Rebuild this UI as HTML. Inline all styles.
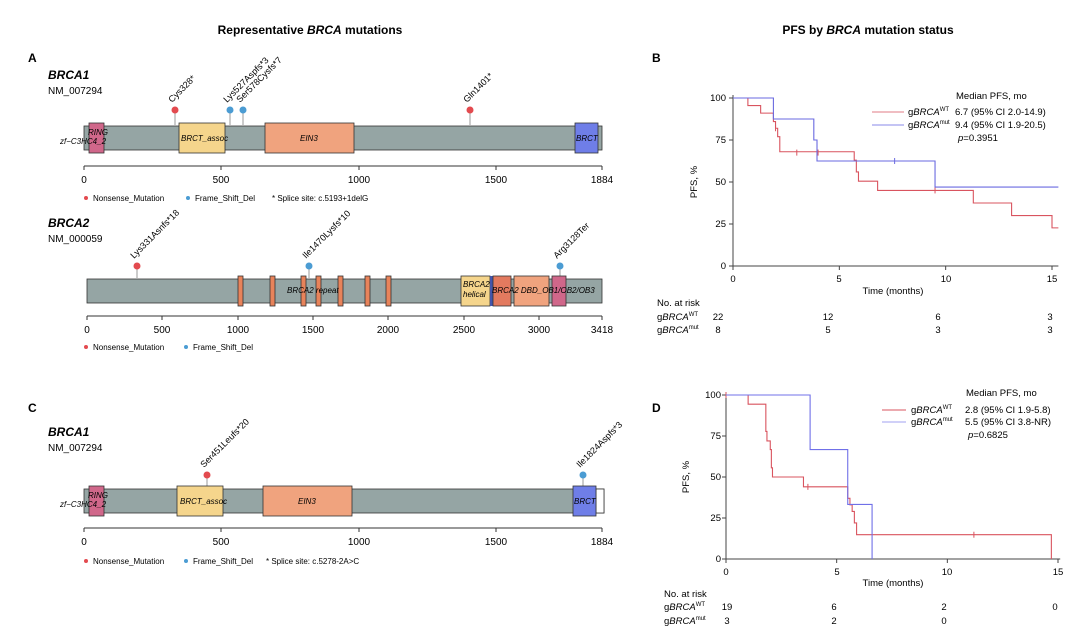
<!DOCTYPE html>
<html><head><meta charset="utf-8"><style>
body{margin:0;background:#fff}
svg{display:block;font-family:"Liberation Sans",sans-serif}
</style></head><body>
<svg id="s" width="1090" height="642" viewBox="0 0 1090 642" xmlns="http://www.w3.org/2000/svg">
<rect width="1090" height="642" fill="#fff"/>
<text x="310" y="34" font-size="12" font-weight="bold" text-anchor="middle">Representative <tspan font-style="italic">BRCA</tspan> mutations</text>
<text x="868" y="34" font-size="12" font-weight="bold" text-anchor="middle">PFS by <tspan font-style="italic">BRCA</tspan> mutation status</text>
<g font-size="12" font-weight="bold"><text x="28" y="62">A</text><text x="652" y="62">B</text><text x="28" y="412">C</text><text x="652" y="412">D</text></g>

<!-- Panel A BRCA1 -->
<g font-size="9">
<text x="48" y="79" font-size="12" font-weight="bold" font-style="italic">BRCA1</text>
<text x="48" y="94" font-size="10">NM_007294</text>
<g stroke="#999"><line x1="175" y1="110" x2="175" y2="125"/><line x1="230" y1="110" x2="230" y2="125"/><line x1="243" y1="110" x2="243" y2="125"/><line x1="470" y1="110" x2="470" y2="125"/></g>
<circle cx="175" cy="110" r="3.5" fill="#e34a4f"/><circle cx="230" cy="110" r="3.5" fill="#4b9cd3"/><circle cx="243" cy="110" r="3.5" fill="#4b9cd3"/><circle cx="470" cy="110" r="3.5" fill="#e34a4f"/>
<text transform="translate(172,103) rotate(-45)">Cys328*</text>
<text transform="translate(227,103) rotate(-45)">Lys527Aspfs*3</text>
<text transform="translate(240,103) rotate(-45)">Ser578Cysfs*7</text>
<text transform="translate(467,103) rotate(-45)">Gln1401*</text>
<rect x="84" y="126" width="518" height="24" fill="#95a5a4" stroke="#333" stroke-width=".8"/>
<rect x="89" y="123" width="15" height="30" fill="#d0678a" stroke="#333" stroke-width=".8"/>
<rect x="179" y="123" width="46" height="30" fill="#f5d58c" stroke="#333" stroke-width=".8"/>
<rect x="265" y="123" width="89" height="30" fill="#f0a37e" stroke="#333" stroke-width=".8"/>
<rect x="575" y="123" width="23" height="30" fill="#6f7ee8" stroke="#333" stroke-width=".8"/>
<g font-style="italic" font-size="8"><text x="88" y="135">RING</text><text x="60" y="144">zf−C3HC4_2</text><text x="181" y="141">BRCT_assoc</text><text x="300" y="141">EIN3</text><text x="576" y="141">BRCT</text></g>
<line x1="84" y1="166" x2="602" y2="166" stroke="#333"/>
<g stroke="#333"><line x1="84" y1="166" x2="84" y2="170"/><line x1="221" y1="166" x2="221" y2="170"/><line x1="359" y1="166" x2="359" y2="170"/><line x1="496" y1="166" x2="496" y2="170"/><line x1="602" y1="166" x2="602" y2="170"/></g>
<g text-anchor="middle" font-size="10"><text x="84" y="183">0</text><text x="221" y="183">500</text><text x="359" y="183">1000</text><text x="496" y="183">1500</text><text x="602" y="183">1884</text></g>
<circle cx="86" cy="198" r="2" fill="#e34a4f"/><text x="93" y="201" font-size="8">Nonsense_Mutation</text>
<circle cx="188" cy="198" r="2" fill="#4b9cd3"/><text x="195" y="201" font-size="8">Frame_Shift_Del</text>
<text x="272" y="201" font-size="8">* Splice site: c.5193+1delG</text>
</g>

<!-- BRCA2 -->
<g font-size="9">
<text x="48" y="227" font-size="12" font-weight="bold" font-style="italic">BRCA2</text>
<text x="48" y="242" font-size="10">NM_000059</text>
<g stroke="#999"><line x1="137" y1="266" x2="137" y2="278"/><line x1="309" y1="266" x2="309" y2="278"/><line x1="560" y1="266" x2="560" y2="278"/></g>
<circle cx="137" cy="266" r="3.5" fill="#e34a4f"/><circle cx="309" cy="266" r="3.5" fill="#4b9cd3"/><circle cx="560" cy="266" r="3.5" fill="#4b9cd3"/>
<text transform="translate(134,259) rotate(-45)">Lys331Asnfs*18</text>
<text transform="translate(306,259) rotate(-45)">Ile1470Lysfs*10</text>
<text transform="translate(557,259) rotate(-45)">Arg3128Ter</text>
<rect x="87" y="279" width="515" height="24" fill="#95a5a4" stroke="#333" stroke-width=".8"/>
<g fill="#e8835a" stroke="#333" stroke-width=".8">
<rect x="238" y="276" width="5" height="30"/><rect x="270" y="276" width="5" height="30"/><rect x="301" y="276" width="5" height="30"/><rect x="316" y="276" width="5" height="30"/><rect x="338" y="276" width="5" height="30"/><rect x="365" y="276" width="5" height="30"/><rect x="386" y="276" width="5" height="30"/></g>
<rect x="461" y="276" width="29" height="30" fill="#f5d58c" stroke="#333" stroke-width=".8"/>
<rect x="490" y="276" width="3" height="30" fill="#4455aa"/>
<rect x="493" y="276" width="18" height="30" fill="#e37a5f" stroke="#333" stroke-width=".8"/>
<rect x="514" y="276" width="35" height="30" fill="#f0a37e" stroke="#333" stroke-width=".8"/>
<rect x="552" y="276" width="14" height="30" fill="#d0678a" stroke="#333" stroke-width=".8"/>
<g font-style="italic" font-size="8"><text x="287" y="293">BRCA2 repeat</text><text x="463" y="287">BRCA2</text><text x="463" y="297">helical</text><text x="492" y="293">BRCA2 DBD_OB1/OB2/OB3</text></g>
<line x1="87" y1="316" x2="602" y2="316" stroke="#333"/>
<g stroke="#333"><line x1="87" y1="316" x2="87" y2="320"/><line x1="162" y1="316" x2="162" y2="320"/><line x1="238" y1="316" x2="238" y2="320"/><line x1="313" y1="316" x2="313" y2="320"/><line x1="388" y1="316" x2="388" y2="320"/><line x1="464" y1="316" x2="464" y2="320"/><line x1="539" y1="316" x2="539" y2="320"/><line x1="602" y1="316" x2="602" y2="320"/></g>
<g text-anchor="middle" font-size="10"><text x="87" y="333">0</text><text x="162" y="333">500</text><text x="238" y="333">1000</text><text x="313" y="333">1500</text><text x="388" y="333">2000</text><text x="464" y="333">2500</text><text x="539" y="333">3000</text><text x="602" y="333">3418</text></g>
<circle cx="86" cy="347" r="2" fill="#e34a4f"/><text x="93" y="350" font-size="8">Nonsense_Mutation</text>
<circle cx="186" cy="347" r="2" fill="#4b9cd3"/><text x="193" y="350" font-size="8">Frame_Shift_Del</text>
</g>

<!-- Panel C -->
<g font-size="9">
<text x="48" y="436" font-size="12" font-weight="bold" font-style="italic">BRCA1</text>
<text x="48" y="451" font-size="10">NM_007294</text>
<g stroke="#999"><line x1="207" y1="475" x2="207" y2="488"/><line x1="583" y1="475" x2="583" y2="488"/></g>
<circle cx="207" cy="475" r="3.5" fill="#e34a4f"/><circle cx="583" cy="475" r="3.5" fill="#4b9cd3"/>
<text transform="translate(204,468) rotate(-45)">Ser451Leufs*20</text>
<text transform="translate(580,468) rotate(-45)">Ile1824Aspfs*3</text>
<rect x="84" y="489" width="520" height="24" fill="#95a5a4" stroke="#333" stroke-width=".8"/>
<rect x="596" y="489" width="8" height="24" fill="#fff" stroke="#333" stroke-width=".8"/>
<rect x="89" y="486" width="15" height="30" fill="#d0678a" stroke="#333" stroke-width=".8"/>
<rect x="177" y="486" width="46" height="30" fill="#f5d58c" stroke="#333" stroke-width=".8"/>
<rect x="263" y="486" width="89" height="30" fill="#f0a37e" stroke="#333" stroke-width=".8"/>
<rect x="573" y="486" width="23" height="30" fill="#6f7ee8" stroke="#333" stroke-width=".8"/>
<g font-style="italic" font-size="8"><text x="88" y="498">RING</text><text x="60" y="507">zf−C3HC4_2</text><text x="180" y="504">BRCT_assoc</text><text x="298" y="504">EIN3</text><text x="574" y="504">BRCT</text></g>
<line x1="84" y1="528" x2="602" y2="528" stroke="#333"/>
<g stroke="#333"><line x1="84" y1="528" x2="84" y2="532"/><line x1="221" y1="528" x2="221" y2="532"/><line x1="359" y1="528" x2="359" y2="532"/><line x1="496" y1="528" x2="496" y2="532"/><line x1="602" y1="528" x2="602" y2="532"/></g>
<g text-anchor="middle" font-size="10"><text x="84" y="545">0</text><text x="221" y="545">500</text><text x="359" y="545">1000</text><text x="496" y="545">1500</text><text x="602" y="545">1884</text></g>
<circle cx="86" cy="561" r="2" fill="#e34a4f"/><text x="93" y="564" font-size="8">Nonsense_Mutation</text>
<circle cx="186" cy="561" r="2" fill="#4b9cd3"/><text x="193" y="564" font-size="8">Frame_Shift_Del</text>
<text x="266" y="564" font-size="8">* Splice site: c.5278-2A&gt;C</text>
</g>

<!-- Panel B -->
<g font-size="9.5">
<text transform="translate(697,182) rotate(-90)" text-anchor="middle">PFS, %</text>
<g text-anchor="end"><text x="726" y="101">100</text><text x="726" y="143">75</text><text x="726" y="185">50</text><text x="726" y="227">25</text><text x="726" y="269">0</text></g>
<g text-anchor="middle"><text x="733" y="282">0</text><text x="839" y="282">5</text><text x="946" y="282">10</text><text x="1052" y="282">15</text><text x="893" y="294">Time (months)</text></g>
<text x="657" y="306">No. at risk</text>
<text x="657" y="320">g<tspan font-style="italic">BRCA</tspan><tspan font-size="6" dy="-4">WT</tspan></text>
<text x="657" y="333">g<tspan font-style="italic">BRCA</tspan><tspan font-size="6" dy="-4">mut</tspan></text>
<g text-anchor="middle"><text x="718" y="320">22</text><text x="828" y="320">12</text><text x="938" y="320">6</text><text x="1050" y="320">3</text><text x="718" y="333">8</text><text x="828" y="333">5</text><text x="938" y="333">3</text><text x="1050" y="333">3</text></g>
<text x="956" y="99">Median PFS, mo</text>
<line x1="872" y1="112" x2="904" y2="112" stroke="#e07b84"/>
<line x1="872" y1="125" x2="904" y2="125" stroke="#8a8ae8"/>
<text x="908" y="115">g<tspan font-style="italic">BRCA</tspan><tspan font-size="6" dy="-4">WT</tspan></text>
<text x="908" y="128">g<tspan font-style="italic">BRCA</tspan><tspan font-size="6" dy="-4">mut</tspan></text>
<text x="955" y="115">6.7 (95% CI 2.0-14.9)</text>
<text x="955" y="128">9.4 (95% CI 1.9-20.5)</text>
<text x="958" y="141"><tspan font-style="italic">p</tspan>=0.3951</text>
</g>
<g id="B"></g>

<!-- Panel D -->
<g font-size="9.5">
<text transform="translate(689,477) rotate(-90)" text-anchor="middle">PFS, %</text>
<g text-anchor="end"><text x="721" y="398">100</text><text x="721" y="439">75</text><text x="721" y="480">50</text><text x="721" y="521">25</text><text x="721" y="562">0</text></g>
<g text-anchor="middle"><text x="726" y="575">0</text><text x="837" y="575">5</text><text x="947" y="575">10</text><text x="1058" y="575">15</text><text x="893" y="586">Time (months)</text></g>
<text x="664" y="597">No. at risk</text>
<text x="664" y="610">g<tspan font-style="italic">BRCA</tspan><tspan font-size="6" dy="-4">WT</tspan></text>
<text x="664" y="624">g<tspan font-style="italic">BRCA</tspan><tspan font-size="6" dy="-4">mut</tspan></text>
<g text-anchor="middle"><text x="727" y="610">19</text><text x="834" y="610">6</text><text x="944" y="610">2</text><text x="1055" y="610">0</text><text x="727" y="624">3</text><text x="834" y="624">2</text><text x="944" y="624">0</text></g>
<text x="966" y="396">Median PFS, mo</text>
<line x1="882" y1="410" x2="906" y2="410" stroke="#d9545f"/>
<line x1="882" y1="422" x2="906" y2="422" stroke="#a0a0f0"/>
<text x="911" y="413">g<tspan font-style="italic">BRCA</tspan><tspan font-size="6" dy="-4">WT</tspan></text>
<text x="911" y="425">g<tspan font-style="italic">BRCA</tspan><tspan font-size="6" dy="-4">mut</tspan></text>
<text x="965" y="413">2.8 (95% CI 1.9-5.8)</text>
<text x="965" y="425">5.5 (95% CI 3.8-NR)</text>
<text x="968" y="438"><tspan font-style="italic">p</tspan>=0.6825</text>
</g>
<g id="D"></g>
</svg>
<script>
function km(id,x0,x1,y100,y0,xmax,series,ticksX){
  var g=document.getElementById(id),h='';
  var X=function(t){return x0+(x1-x0)*t/15},Y=function(v){return y0+(y100-y0)*v/100};
  h+='<line x1="'+x0+'" y1="'+(y100-3)+'" x2="'+x0+'" y2="'+y0+'" stroke="#444"/>';
  h+='<line x1="'+x0+'" y1="'+y0+'" x2="'+X(xmax)+'" y2="'+y0+'" stroke="#444"/>';
  [0,25,50,75,100].forEach(function(v){h+='<line x1="'+(x0-4)+'" y1="'+Y(v)+'" x2="'+x0+'" y2="'+Y(v)+'" stroke="#444"/>'});
  [0,5,10,15].forEach(function(t){h+='<line x1="'+X(t)+'" y1="'+y0+'" x2="'+X(t)+'" y2="'+(y0+4)+'" stroke="#444"/>'});
  series.forEach(function(s){
    var d='M'+X(0)+','+Y(s.pts[0][1]);
    for(var i=1;i<s.pts.length;i++){d+=' H'+X(s.pts[i][0])+' V'+Y(s.pts[i][1]);}
    d+=' H'+X(s.end);
    h+='<path d="'+d+'" fill="none" stroke="'+s.c+'" stroke-width="1.1"/>';
    (s.cens||[]).forEach(function(c){h+='<line x1="'+X(c[0])+'" y1="'+(Y(c[1])-3)+'" x2="'+X(c[0])+'" y2="'+(Y(c[1])+3)+'" stroke="'+s.c+'"/>'});
  });
  g.innerHTML=h;
}
km('B',733,1052,98,266,15.3,[
 {c:'#d9545f',end:15.3,pts:[[0,100],[0.7,95.5],[1.3,91],[1.9,86],[2.0,82],[2.1,77],[2.2,68],[5.7,63],[5.8,56],[5.9,50.5],[6.8,45],[11.3,37.5],[13.1,30],[15,22.7]],cens:[[2.0,82],[3.0,67.5],[4.0,67.5],[9.5,45]]},
 {c:'#6a6ae0',end:15.3,pts:[[0,100],[1.9,87.5],[3.8,75],[3.95,62.5],[9.5,47]],cens:[[7.6,62.5]]}
]);
km('D',726,1058,395,559,15.1,[
 {c:'#d9545f',end:14.7,pts:[[0,100],[1.0,94.4],[1.8,77.8],[1.85,72],[2.0,66.7],[2.05,55.6],[2.1,50],[3.5,44],[5.5,37],[5.6,33],[5.7,29],[5.8,22],[5.9,14.8],[14.7,0]],cens:[[0,100],[3.7,44],[11.2,14.8]]},
 {c:'#7070e8',end:6.6,pts:[[0,100],[3.8,66.7],[5.5,33.3],[6.6,0]]}
]);
</script>
</body></html>
